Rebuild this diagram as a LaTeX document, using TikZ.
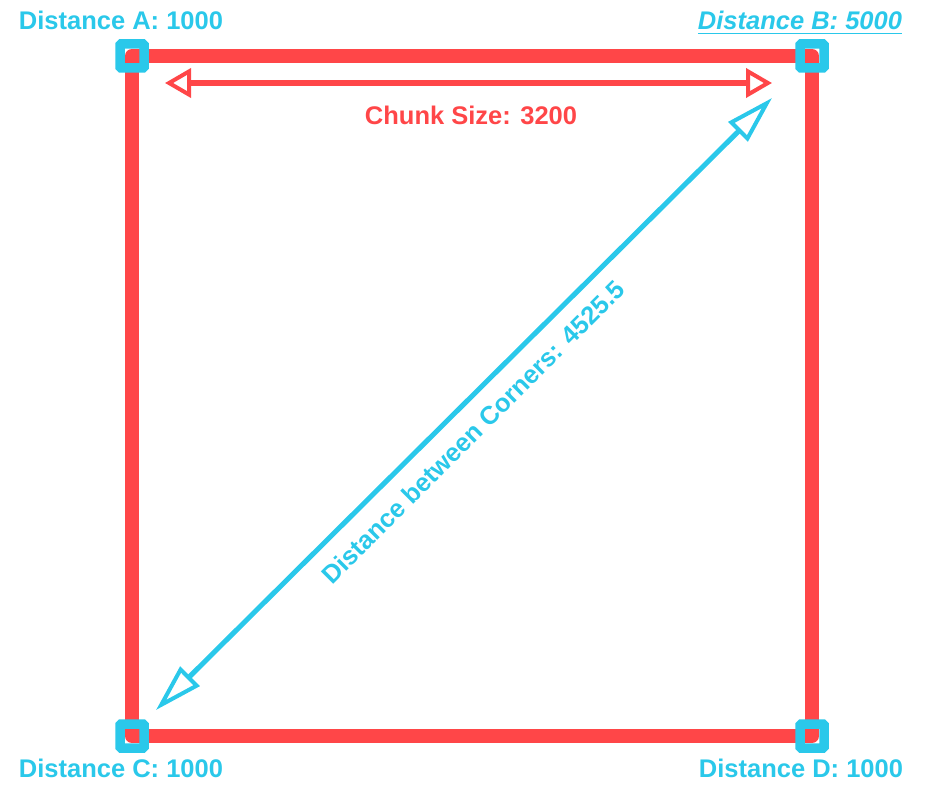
\documentclass[tikz,border=0pt]{standalone}
\usepackage{fontspec}
\setmainfont{Liberation Sans}
\usetikzlibrary{arrows.meta}
\definecolor{myred}{RGB}{255,70,72}
\definecolor{mycyan}{RGB}{42,200,234}
\begin{document}
\begin{tikzpicture}[x=1pt,y=-1pt,
  lbl/.style={font=\fontsize{25.5}{30}\selectfont\bfseries, text=mycyan, inner sep=0pt, anchor=base},
  cornerbox/.style={draw=mycyan, line width=9.5pt, rounded corners=1.2pt},
  redside/.style={draw=myred, line width=14pt, line join=round},
  chunkarrow/.style={draw=myred, line width=5.5pt, {Triangle[open,length=26pt,width=29pt,line width=4pt]}-{Triangle[open,length=26pt,width=29pt,line width=4pt]}},
  diagarrow/.style={draw=mycyan, line width=5pt, {Triangle[open,length=48pt,width=27pt,line width=4pt]}-{Triangle[open,length=48pt,width=27pt,line width=4pt]}}
]
\useasboundingbox (0,0) rectangle (942,792);
\coordinate (A) at (132,56);
\coordinate (B) at (812,56);
\coordinate (C) at (132,736);
\coordinate (D) at (812,736);
\draw[redside] (A) -- (B) -- (D) -- (C) -- cycle;
\foreach \c in {A,B,C,D}{
  \draw[cornerbox] ([shift={(-12,-12)}]\c) rectangle ([shift={(12,12)}]\c);
}
\coordinate (cl) at (165,83);
\coordinate (cr) at (772,83);
\draw[chunkarrow] (cl) -- (cr);
\node[lbl, text=myred] (chunk) at (471,124) {Chunk Size: 3200};
\coordinate (dl) at (156,710);
\coordinate (du) at (772,98);
\draw[diagarrow] (dl) -- (du);
\node[font=\fontsize{25.5}{30}\selectfont\bfseries, text=mycyan, inner sep=0pt, rotate=45] (diag) at (473,432) {Distance between Corners: 4525.5};
\node[lbl] (la) at (121,30) {Distance A: 1000};
\node[lbl, font=\fontsize{25.5}{30}\selectfont\bfseries\itshape] (lb) at (800,30) {Distance B: 5000};
\draw[mycyan, line width=1.8pt] ([yshift=-3.5pt]lb.base west) -- ([yshift=-3.5pt]lb.base east);
\node[lbl] (lc) at (121,777) {Distance C: 1000};
\node[lbl] (ld) at (801,777) {Distance D: 1000};
\end{tikzpicture}
\end{document}
